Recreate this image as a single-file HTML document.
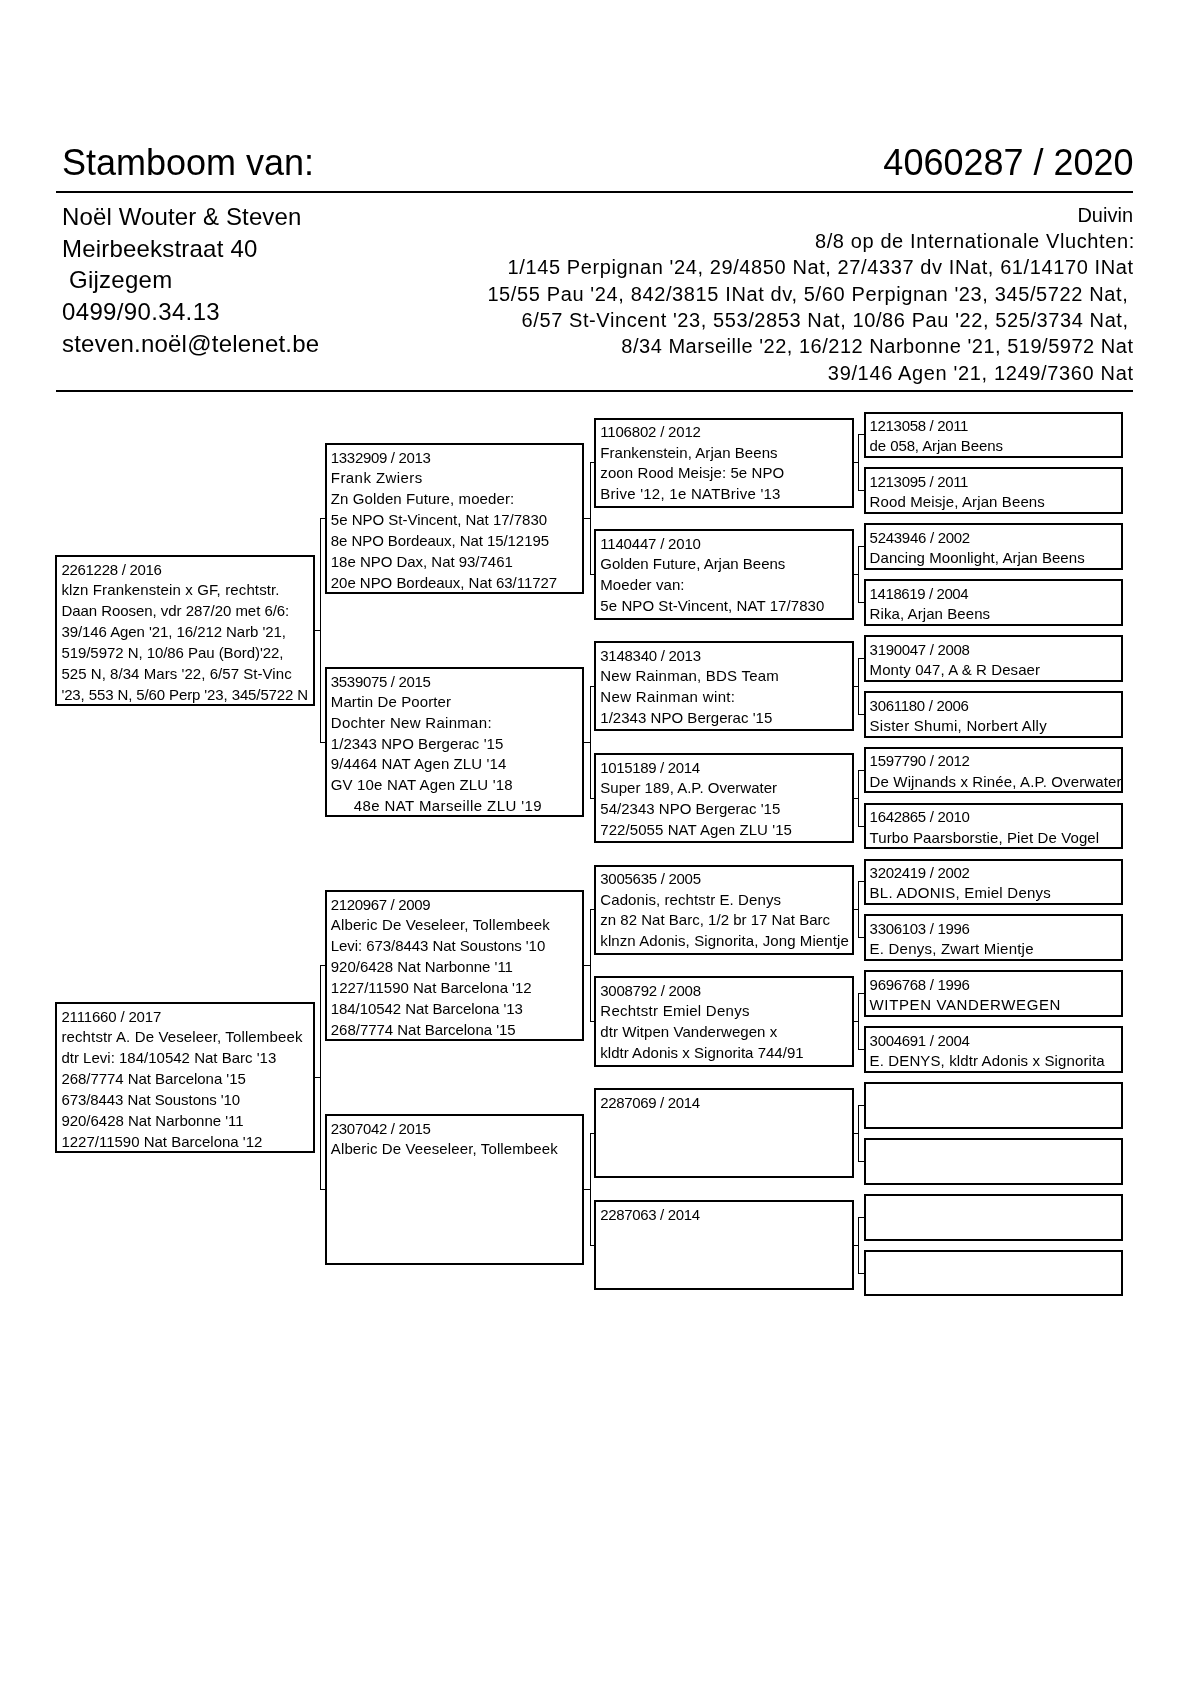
<!DOCTYPE html>
<html><head><meta charset="utf-8"><style>
html,body{margin:0;padding:0;background:#fff;}
body{will-change:transform;width:1190px;height:1683px;position:relative;overflow:hidden;font-family:"Liberation Sans",sans-serif;color:#000;}
.b{position:absolute;border:2.0px solid #000;}
.l{position:absolute;background:#000;}
.t{position:absolute;white-space:pre;}
</style></head><body>
<div class="b" style="left:55.40px;top:555.13px;width:255.60px;height:146.60px"></div>
<div class="t" style="left:61.40px;top:560.83px;font-size:15.0px;line-height:18.0px;letter-spacing:-0.284px">2261228 / 2016</div>
<div class="t" style="left:61.40px;top:581.03px;font-size:15.0px;line-height:18.0px;letter-spacing:0.121px">klzn Frankenstein x GF, rechtstr.</div>
<div class="t" style="left:61.40px;top:601.93px;font-size:15.0px;line-height:18.0px;letter-spacing:-0.046px">Daan Roosen, vdr 287/20 met 6/6:</div>
<div class="t" style="left:61.40px;top:622.83px;font-size:15.0px;line-height:18.0px;letter-spacing:-0.068px">39/146 Agen '21, 16/212 Narb '21,</div>
<div class="t" style="left:61.40px;top:643.73px;font-size:15.0px;line-height:18.0px;letter-spacing:-0.055px">519/5972 N, 10/86 Pau (Bord)'22,</div>
<div class="t" style="left:61.40px;top:664.63px;font-size:15.0px;line-height:18.0px;letter-spacing:0.052px">525 N, 8/34 Mars '22, 6/57 St-Vinc</div>
<div class="t" style="left:61.40px;top:685.53px;font-size:15.0px;line-height:18.0px;letter-spacing:-0.114px">'23, 553 N, 5/60 Perp '23, 345/5722 N</div>
<div class="b" style="left:55.40px;top:1002.17px;width:255.60px;height:146.60px"></div>
<div class="t" style="left:61.40px;top:1007.87px;font-size:15.0px;line-height:18.0px;letter-spacing:-0.162px">2111660 / 2017</div>
<div class="t" style="left:61.40px;top:1028.07px;font-size:15.0px;line-height:18.0px;letter-spacing:0.132px">rechtstr A. De Veseleer, Tollembeek</div>
<div class="t" style="left:61.40px;top:1048.97px;font-size:15.0px;line-height:18.0px;letter-spacing:0.007px">dtr Levi: 184/10542 Nat Barc '13</div>
<div class="t" style="left:61.40px;top:1069.87px;font-size:15.0px;line-height:18.0px;letter-spacing:-0.044px">268/7774 Nat Barcelona '15</div>
<div class="t" style="left:61.40px;top:1090.77px;font-size:15.0px;line-height:18.0px;letter-spacing:-0.075px">673/8443 Nat Soustons '10</div>
<div class="t" style="left:61.40px;top:1111.67px;font-size:15.0px;line-height:18.0px;letter-spacing:-0.021px">920/6428 Nat Narbonne '11</div>
<div class="t" style="left:61.40px;top:1132.57px;font-size:15.0px;line-height:18.0px;letter-spacing:-0.004px">1227/11590 Nat Barcelona '12</div>
<div class="b" style="left:324.80px;top:443.37px;width:255.60px;height:146.60px"></div>
<div class="t" style="left:330.80px;top:449.07px;font-size:15.0px;line-height:18.0px;letter-spacing:-0.316px">1332909 / 2013</div>
<div class="t" style="left:330.80px;top:469.27px;font-size:15.0px;line-height:18.0px;letter-spacing:0.437px">Frank Zwiers</div>
<div class="t" style="left:330.80px;top:490.17px;font-size:15.0px;line-height:18.0px;letter-spacing:0.104px">Zn Golden Future, moeder:</div>
<div class="t" style="left:330.80px;top:511.07px;font-size:15.0px;line-height:18.0px;letter-spacing:-0.007px">5e NPO St-Vincent, Nat 17/7830</div>
<div class="t" style="left:330.80px;top:531.97px;font-size:15.0px;line-height:18.0px;letter-spacing:-0.068px">8e NPO Bordeaux, Nat 15/12195</div>
<div class="t" style="left:330.80px;top:552.87px;font-size:15.0px;line-height:18.0px;letter-spacing:-0.026px">18e NPO Dax, Nat 93/7461</div>
<div class="t" style="left:330.80px;top:573.77px;font-size:15.0px;line-height:18.0px;letter-spacing:-0.034px">20e NPO Bordeaux, Nat 63/11727</div>
<div class="b" style="left:324.80px;top:666.89px;width:255.60px;height:146.60px"></div>
<div class="t" style="left:330.80px;top:672.59px;font-size:15.0px;line-height:18.0px;letter-spacing:-0.316px">3539075 / 2015</div>
<div class="t" style="left:330.80px;top:692.79px;font-size:15.0px;line-height:18.0px;letter-spacing:0.119px">Martin De Poorter</div>
<div class="t" style="left:330.80px;top:713.69px;font-size:15.0px;line-height:18.0px;letter-spacing:0.3px">Dochter New Rainman:</div>
<div class="t" style="left:330.80px;top:734.59px;font-size:15.0px;line-height:18.0px;letter-spacing:0.054px">1/2343 NPO Bergerac '15</div>
<div class="t" style="left:330.80px;top:755.49px;font-size:15.0px;line-height:18.0px;letter-spacing:0.1px">9/4464 NAT Agen ZLU '14</div>
<div class="t" style="left:330.80px;top:776.39px;font-size:15.0px;line-height:18.0px;letter-spacing:0.159px">GV 10e NAT Agen ZLU '18</div>
<div class="t" style="left:353.80px;top:797.29px;font-size:15.0px;line-height:18.0px;letter-spacing:0.396px">48e NAT Marseille ZLU '19</div>
<div class="b" style="left:324.80px;top:890.41px;width:255.60px;height:146.60px"></div>
<div class="t" style="left:330.80px;top:896.11px;font-size:15.0px;line-height:18.0px;letter-spacing:-0.353px">2120967 / 2009</div>
<div class="t" style="left:330.80px;top:916.31px;font-size:15.0px;line-height:18.0px;letter-spacing:0.139px">Alberic De Veseleer, Tollembeek</div>
<div class="t" style="left:330.80px;top:937.21px;font-size:15.0px;line-height:18.0px;letter-spacing:-0.064px">Levi: 673/8443 Nat Soustons '10</div>
<div class="t" style="left:330.80px;top:958.11px;font-size:15.0px;line-height:18.0px;letter-spacing:-0.025px">920/6428 Nat Narbonne '11</div>
<div class="t" style="left:330.80px;top:979.01px;font-size:15.0px;line-height:18.0px;letter-spacing:-0.008px">1227/11590 Nat Barcelona '12</div>
<div class="t" style="left:330.80px;top:999.91px;font-size:15.0px;line-height:18.0px;letter-spacing:-0.07px">184/10542 Nat Barcelona '13</div>
<div class="t" style="left:330.80px;top:1020.81px;font-size:15.0px;line-height:18.0px;letter-spacing:-0.024px">268/7774 Nat Barcelona '15</div>
<div class="b" style="left:324.80px;top:1113.93px;width:255.60px;height:146.60px"></div>
<div class="t" style="left:330.80px;top:1119.63px;font-size:15.0px;line-height:18.0px;letter-spacing:-0.316px">2307042 / 2015</div>
<div class="t" style="left:330.80px;top:1139.83px;font-size:15.0px;line-height:18.0px;letter-spacing:0.122px">Alberic De Veeseleer, Tollembeek</div>
<div class="b" style="left:594.30px;top:417.64px;width:255.60px;height:86.30px"></div>
<div class="t" style="left:600.30px;top:423.34px;font-size:15.0px;line-height:18.0px;letter-spacing:-0.199px">1106802 / 2012</div>
<div class="t" style="left:600.30px;top:443.54px;font-size:15.0px;line-height:18.0px;letter-spacing:0.054px">Frankenstein, Arjan Beens</div>
<div class="t" style="left:600.30px;top:464.44px;font-size:15.0px;line-height:18.0px;letter-spacing:0.095px">zoon Rood Meisje: 5e NPO</div>
<div class="t" style="left:600.30px;top:485.34px;font-size:15.0px;line-height:18.0px;letter-spacing:0.252px">Brive '12, 1e NATBrive '13</div>
<div class="b" style="left:594.30px;top:529.40px;width:255.60px;height:86.30px"></div>
<div class="t" style="left:600.30px;top:535.10px;font-size:15.0px;line-height:18.0px;letter-spacing:-0.199px">1140447 / 2010</div>
<div class="t" style="left:600.30px;top:555.30px;font-size:15.0px;line-height:18.0px;letter-spacing:-0.004px">Golden Future, Arjan Beens</div>
<div class="t" style="left:600.30px;top:576.20px;font-size:15.0px;line-height:18.0px;letter-spacing:0.08px">Moeder van:</div>
<div class="t" style="left:600.30px;top:597.10px;font-size:15.0px;line-height:18.0px;letter-spacing:0.078px">5e NPO St-Vincent, NAT 17/7830</div>
<div class="b" style="left:594.30px;top:641.16px;width:255.60px;height:86.30px"></div>
<div class="t" style="left:600.30px;top:646.86px;font-size:15.0px;line-height:18.0px;letter-spacing:-0.276px">3148340 / 2013</div>
<div class="t" style="left:600.30px;top:667.06px;font-size:15.0px;line-height:18.0px;letter-spacing:0.23px">New Rainman, BDS Team</div>
<div class="t" style="left:600.30px;top:687.96px;font-size:15.0px;line-height:18.0px;letter-spacing:0.344px">New Rainman wint:</div>
<div class="t" style="left:600.30px;top:708.86px;font-size:15.0px;line-height:18.0px;letter-spacing:0.031px">1/2343 NPO Bergerac '15</div>
<div class="b" style="left:594.30px;top:752.92px;width:255.60px;height:86.30px"></div>
<div class="t" style="left:600.30px;top:758.62px;font-size:15.0px;line-height:18.0px;letter-spacing:-0.353px">1015189 / 2014</div>
<div class="t" style="left:600.30px;top:778.82px;font-size:15.0px;line-height:18.0px;letter-spacing:0.012px">Super 189, A.P. Overwater</div>
<div class="t" style="left:600.30px;top:799.72px;font-size:15.0px;line-height:18.0px;letter-spacing:0.013px">54/2343 NPO Bergerac '15</div>
<div class="t" style="left:600.30px;top:820.62px;font-size:15.0px;line-height:18.0px;letter-spacing:0.071px">722/5055 NAT Agen ZLU '15</div>
<div class="b" style="left:594.30px;top:864.68px;width:255.60px;height:86.30px"></div>
<div class="t" style="left:600.30px;top:870.38px;font-size:15.0px;line-height:18.0px;letter-spacing:-0.276px">3005635 / 2005</div>
<div class="t" style="left:600.30px;top:890.58px;font-size:15.0px;line-height:18.0px;letter-spacing:0.092px">Cadonis, rechtstr E. Denys</div>
<div class="t" style="left:600.30px;top:911.48px;font-size:15.0px;line-height:18.0px;letter-spacing:0.015px">zn 82 Nat Barc, 1/2 br 17 Nat Barc</div>
<div class="t" style="left:600.30px;top:932.38px;font-size:15.0px;line-height:18.0px;letter-spacing:0.092px">klnzn Adonis, Signorita, Jong Mientje</div>
<div class="b" style="left:594.30px;top:976.44px;width:255.60px;height:86.30px"></div>
<div class="t" style="left:600.30px;top:982.14px;font-size:15.0px;line-height:18.0px;letter-spacing:-0.276px">3008792 / 2008</div>
<div class="t" style="left:600.30px;top:1002.34px;font-size:15.0px;line-height:18.0px;letter-spacing:0.258px">Rechtstr Emiel Denys</div>
<div class="t" style="left:600.30px;top:1023.24px;font-size:15.0px;line-height:18.0px;letter-spacing:0.056px">dtr Witpen Vanderwegen x</div>
<div class="t" style="left:600.30px;top:1044.14px;font-size:15.0px;line-height:18.0px;letter-spacing:0.024px">kldtr Adonis x Signorita 744/91</div>
<div class="b" style="left:594.30px;top:1088.20px;width:255.60px;height:86.30px"></div>
<div class="t" style="left:600.30px;top:1093.90px;font-size:15.0px;line-height:18.0px;letter-spacing:-0.353px">2287069 / 2014</div>
<div class="b" style="left:594.30px;top:1199.96px;width:255.60px;height:86.30px"></div>
<div class="t" style="left:600.30px;top:1205.66px;font-size:15.0px;line-height:18.0px;letter-spacing:-0.353px">2287063 / 2014</div>
<div class="b" style="left:863.60px;top:411.50px;width:255.60px;height:42.70px"></div>
<div class="t" style="left:869.60px;top:417.20px;font-size:15.0px;line-height:18.0px;letter-spacing:-0.332px">1213058 / 2011</div>
<div class="t" style="left:869.60px;top:437.40px;font-size:15.0px;line-height:18.0px;letter-spacing:-0.1px">de 058, Arjan Beens</div>
<div class="b" style="left:863.60px;top:467.38px;width:255.60px;height:42.70px"></div>
<div class="t" style="left:869.60px;top:473.08px;font-size:15.0px;line-height:18.0px;letter-spacing:-0.332px">1213095 / 2011</div>
<div class="t" style="left:869.60px;top:493.28px;font-size:15.0px;line-height:18.0px;letter-spacing:0.114px">Rood Meisje, Arjan Beens</div>
<div class="b" style="left:863.60px;top:523.26px;width:255.60px;height:42.70px"></div>
<div class="t" style="left:869.60px;top:528.96px;font-size:15.0px;line-height:18.0px;letter-spacing:-0.284px">5243946 / 2002</div>
<div class="t" style="left:869.60px;top:549.16px;font-size:15.0px;line-height:18.0px;letter-spacing:0.055px">Dancing Moonlight, Arjan Beens</div>
<div class="b" style="left:863.60px;top:579.14px;width:255.60px;height:42.70px"></div>
<div class="t" style="left:869.60px;top:584.84px;font-size:15.0px;line-height:18.0px;letter-spacing:-0.401px">1418619 / 2004</div>
<div class="t" style="left:869.60px;top:605.04px;font-size:15.0px;line-height:18.0px;letter-spacing:0.081px">Rika, Arjan Beens</div>
<div class="b" style="left:863.60px;top:635.02px;width:255.60px;height:42.70px"></div>
<div class="t" style="left:869.60px;top:640.72px;font-size:15.0px;line-height:18.0px;letter-spacing:-0.3px">3190047 / 2008</div>
<div class="t" style="left:869.60px;top:660.92px;font-size:15.0px;line-height:18.0px;letter-spacing:0.091px">Monty 047, A &amp; R Desaer</div>
<div class="b" style="left:863.60px;top:690.90px;width:255.60px;height:42.70px"></div>
<div class="t" style="left:869.60px;top:696.60px;font-size:15.0px;line-height:18.0px;letter-spacing:-0.3px">3061180 / 2006</div>
<div class="t" style="left:869.60px;top:716.80px;font-size:15.0px;line-height:18.0px;letter-spacing:0.248px">Sister Shumi, Norbert Ally</div>
<div class="b" style="left:863.60px;top:746.78px;width:255.60px;height:42.70px"></div>
<div class="t" style="left:869.60px;top:752.48px;font-size:15.0px;line-height:18.0px;letter-spacing:-0.3px">1597790 / 2012</div>
<div class="t" style="left:869.60px;top:772.68px;font-size:15.0px;line-height:18.0px;letter-spacing:0.135px">De Wijnands x Rinée, A.P. Overwater</div>
<div class="b" style="left:863.60px;top:802.66px;width:255.60px;height:42.70px"></div>
<div class="t" style="left:869.60px;top:808.36px;font-size:15.0px;line-height:18.0px;letter-spacing:-0.3px">1642865 / 2010</div>
<div class="t" style="left:869.60px;top:828.56px;font-size:15.0px;line-height:18.0px;letter-spacing:0.103px">Turbo Paarsborstie, Piet De Vogel</div>
<div class="b" style="left:863.60px;top:858.54px;width:255.60px;height:42.70px"></div>
<div class="t" style="left:869.60px;top:864.24px;font-size:15.0px;line-height:18.0px;letter-spacing:-0.3px">3202419 / 2002</div>
<div class="t" style="left:869.60px;top:884.44px;font-size:15.0px;line-height:18.0px;letter-spacing:0.242px">BL. ADONIS, Emiel Denys</div>
<div class="b" style="left:863.60px;top:914.42px;width:255.60px;height:42.70px"></div>
<div class="t" style="left:869.60px;top:920.12px;font-size:15.0px;line-height:18.0px;letter-spacing:-0.3px">3306103 / 1996</div>
<div class="t" style="left:869.60px;top:940.32px;font-size:15.0px;line-height:18.0px;letter-spacing:0.213px">E. Denys, Zwart Mientje</div>
<div class="b" style="left:863.60px;top:970.30px;width:255.60px;height:42.70px"></div>
<div class="t" style="left:869.60px;top:976.00px;font-size:15.0px;line-height:18.0px;letter-spacing:-0.3px">9696768 / 1996</div>
<div class="t" style="left:869.60px;top:996.20px;font-size:15.0px;line-height:18.0px;letter-spacing:0.618px">WITPEN VANDERWEGEN</div>
<div class="b" style="left:863.60px;top:1026.18px;width:255.60px;height:42.70px"></div>
<div class="t" style="left:869.60px;top:1031.88px;font-size:15.0px;line-height:18.0px;letter-spacing:-0.3px">3004691 / 2004</div>
<div class="t" style="left:869.60px;top:1052.08px;font-size:15.0px;line-height:18.0px;letter-spacing:0.124px">E. DENYS, kldtr Adonis x Signorita</div>
<div class="b" style="left:863.60px;top:1082.06px;width:255.60px;height:42.70px"></div>
<div class="b" style="left:863.60px;top:1137.94px;width:255.60px;height:42.70px"></div>
<div class="b" style="left:863.60px;top:1193.82px;width:255.60px;height:42.70px"></div>
<div class="b" style="left:863.60px;top:1249.70px;width:255.60px;height:42.70px"></div>
<div class="l" style="left:315.00px;top:629.93px;width:5.50px;height:1.00px"></div>
<div class="l" style="left:320.00px;top:518.17px;width:1.00px;height:224.52px"></div>
<div class="l" style="left:320.50px;top:518.17px;width:4.30px;height:1.00px"></div>
<div class="l" style="left:320.50px;top:741.69px;width:4.30px;height:1.00px"></div>
<div class="l" style="left:315.00px;top:1076.97px;width:5.50px;height:1.00px"></div>
<div class="l" style="left:320.00px;top:965.21px;width:1.00px;height:224.52px"></div>
<div class="l" style="left:320.50px;top:965.21px;width:4.30px;height:1.00px"></div>
<div class="l" style="left:320.50px;top:1188.73px;width:4.30px;height:1.00px"></div>
<div class="l" style="left:584.40px;top:518.17px;width:5.60px;height:1.00px"></div>
<div class="l" style="left:589.50px;top:462.29px;width:1.00px;height:112.76px"></div>
<div class="l" style="left:590.00px;top:462.29px;width:4.30px;height:1.00px"></div>
<div class="l" style="left:590.00px;top:574.05px;width:4.30px;height:1.00px"></div>
<div class="l" style="left:584.40px;top:741.69px;width:5.60px;height:1.00px"></div>
<div class="l" style="left:589.50px;top:685.81px;width:1.00px;height:112.76px"></div>
<div class="l" style="left:590.00px;top:685.81px;width:4.30px;height:1.00px"></div>
<div class="l" style="left:590.00px;top:797.57px;width:4.30px;height:1.00px"></div>
<div class="l" style="left:584.40px;top:965.21px;width:5.60px;height:1.00px"></div>
<div class="l" style="left:589.50px;top:909.33px;width:1.00px;height:112.76px"></div>
<div class="l" style="left:590.00px;top:909.33px;width:4.30px;height:1.00px"></div>
<div class="l" style="left:590.00px;top:1021.09px;width:4.30px;height:1.00px"></div>
<div class="l" style="left:584.40px;top:1188.73px;width:5.60px;height:1.00px"></div>
<div class="l" style="left:589.50px;top:1132.85px;width:1.00px;height:112.76px"></div>
<div class="l" style="left:590.00px;top:1132.85px;width:4.30px;height:1.00px"></div>
<div class="l" style="left:590.00px;top:1244.61px;width:4.30px;height:1.00px"></div>
<div class="l" style="left:853.90px;top:462.29px;width:4.80px;height:1.00px"></div>
<div class="l" style="left:858.20px;top:434.35px;width:1.00px;height:56.88px"></div>
<div class="l" style="left:858.70px;top:434.35px;width:4.90px;height:1.00px"></div>
<div class="l" style="left:858.70px;top:490.23px;width:4.90px;height:1.00px"></div>
<div class="l" style="left:853.90px;top:574.05px;width:4.80px;height:1.00px"></div>
<div class="l" style="left:858.20px;top:546.11px;width:1.00px;height:56.88px"></div>
<div class="l" style="left:858.70px;top:546.11px;width:4.90px;height:1.00px"></div>
<div class="l" style="left:858.70px;top:601.99px;width:4.90px;height:1.00px"></div>
<div class="l" style="left:853.90px;top:685.81px;width:4.80px;height:1.00px"></div>
<div class="l" style="left:858.20px;top:657.87px;width:1.00px;height:56.88px"></div>
<div class="l" style="left:858.70px;top:657.87px;width:4.90px;height:1.00px"></div>
<div class="l" style="left:858.70px;top:713.75px;width:4.90px;height:1.00px"></div>
<div class="l" style="left:853.90px;top:797.57px;width:4.80px;height:1.00px"></div>
<div class="l" style="left:858.20px;top:769.63px;width:1.00px;height:56.88px"></div>
<div class="l" style="left:858.70px;top:769.63px;width:4.90px;height:1.00px"></div>
<div class="l" style="left:858.70px;top:825.51px;width:4.90px;height:1.00px"></div>
<div class="l" style="left:853.90px;top:909.33px;width:4.80px;height:1.00px"></div>
<div class="l" style="left:858.20px;top:881.39px;width:1.00px;height:56.88px"></div>
<div class="l" style="left:858.70px;top:881.39px;width:4.90px;height:1.00px"></div>
<div class="l" style="left:858.70px;top:937.27px;width:4.90px;height:1.00px"></div>
<div class="l" style="left:853.90px;top:1021.09px;width:4.80px;height:1.00px"></div>
<div class="l" style="left:858.20px;top:993.15px;width:1.00px;height:56.88px"></div>
<div class="l" style="left:858.70px;top:993.15px;width:4.90px;height:1.00px"></div>
<div class="l" style="left:858.70px;top:1049.03px;width:4.90px;height:1.00px"></div>
<div class="l" style="left:853.90px;top:1132.85px;width:4.80px;height:1.00px"></div>
<div class="l" style="left:858.20px;top:1104.91px;width:1.00px;height:56.88px"></div>
<div class="l" style="left:858.70px;top:1104.91px;width:4.90px;height:1.00px"></div>
<div class="l" style="left:858.70px;top:1160.79px;width:4.90px;height:1.00px"></div>
<div class="l" style="left:853.90px;top:1244.61px;width:4.80px;height:1.00px"></div>
<div class="l" style="left:858.20px;top:1216.67px;width:1.00px;height:56.88px"></div>
<div class="l" style="left:858.70px;top:1216.67px;width:4.90px;height:1.00px"></div>
<div class="l" style="left:858.70px;top:1272.55px;width:4.90px;height:1.00px"></div>
<div class="t" style="left:62.00px;top:140.53px;font-size:36px;line-height:43.199999999999996px;">Stamboom van:</div>
<div class="t" style="right:56.40px;top:140.53px;font-size:36px;line-height:43.2px">4060287 / 2020</div>
<div class="l" style="left:56.30px;top:191.10px;width:1077.20px;height:2.00px"></div>
<div class="l" style="left:56.30px;top:389.50px;width:1077.20px;height:2.00px"></div>
<div class="t" style="left:62.00px;top:203.18px;font-size:24px;line-height:28.799999999999997px;letter-spacing:0.12px">Noël Wouter &amp; Steven</div>
<div class="t" style="left:62.00px;top:234.58px;font-size:24px;line-height:28.799999999999997px;letter-spacing:0.2px">Meirbeekstraat 40</div>
<div class="t" style="left:62.00px;top:266.28px;font-size:24px;line-height:28.799999999999997px;letter-spacing:0.27px"> Gijzegem</div>
<div class="t" style="left:62.00px;top:298.08px;font-size:24px;line-height:28.799999999999997px;letter-spacing:0.35px">0499/90.34.13</div>
<div class="t" style="left:62.00px;top:329.78px;font-size:24px;line-height:28.799999999999997px;letter-spacing:0.22px">steven.noël@telenet.be</div>
<div class="t" style="right:57.00px;top:202.67px;font-size:20px;line-height:24px;letter-spacing:0.0px">Duivin</div>
<div class="t" style="right:55.09px;top:229.02px;font-size:20px;line-height:24px;letter-spacing:0.614px">8/8 op de Internationale Vluchten:</div>
<div class="t" style="right:56.40px;top:255.37px;font-size:20px;line-height:24px;letter-spacing:0.6px">1/145 Perpignan '24, 29/4850 Nat, 27/4337 dv INat, 61/14170 INat</div>
<div class="t" style="right:55.38px;top:281.72px;font-size:20px;line-height:24px;letter-spacing:0.623px">15/55 Pau '24, 842/3815 INat dv, 5/60 Perpignan '23, 345/5722 Nat, </div>
<div class="t" style="right:55.21px;top:308.07px;font-size:20px;line-height:24px;letter-spacing:0.59px">6/57 St-Vincent '23, 553/2853 Nat, 10/86 Pau '22, 525/3734 Nat, </div>
<div class="t" style="right:56.48px;top:334.42px;font-size:20px;line-height:24px;letter-spacing:0.52px">8/34 Marseille '22, 16/212 Narbonne '21, 519/5972 Nat</div>
<div class="t" style="right:56.35px;top:360.77px;font-size:20px;line-height:24px;letter-spacing:0.65px">39/146 Agen '21, 1249/7360 Nat</div>
</body></html>
